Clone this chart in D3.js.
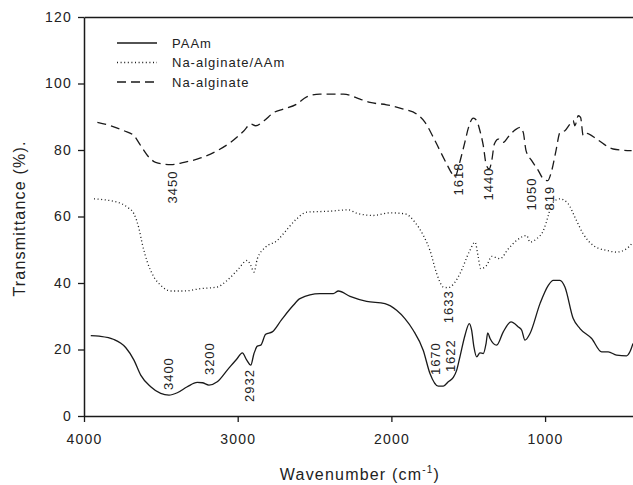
<!DOCTYPE html>
<html>
<head>
<meta charset="utf-8">
<script src="https://cdn.jsdelivr.net/npm/d3@7"></script>
<style>
  html, body { margin: 0; padding: 0; background: #fff; }
  svg { display: block; overflow: hidden; font-family: Arial, "Liberation Sans", sans-serif; }
</style>
</head>
<body>
<div id="chart"></div>
<script>
// Spectra as [wavenumber, transmittance] pairs
const paam = [[3956,24.2],[3902,24.0],[3805,23.0],[3729,20.6],[3675,16.8],[3631,12.3],[3566,8.8],[3501,6.8],[3447,6.3],[3393,7.0],[3328,8.8],[3263,10.1],[3230,10.0],[3187,9.3],[3133,10.3],[3068,13.8],[3003,17.3],[2970,19.0],[2941,16.8],[2915,15.3],[2894,18.8],[2872,21.0],[2850,21.3],[2818,24.6],[2775,25.3],[2714,29.0],[2638,33.3],[2595,35.3],[2465,36.8],[2378,36.8],[2345,37.6],[2269,36.0],[2161,34.5],[2042,33.8],[1966,31.8],[1912,29.3],[1858,25.8],[1793,19.8],[1749,12.8],[1695,9.0],[1662,9.0],[1630,10.3],[1597,11.6],[1575,13.8],[1554,17.8],[1521,24.3],[1493,27.8],[1478,25.8],[1463,20.8],[1445,17.8],[1424,19.0],[1402,18.8],[1384,21.8],[1373,25.0],[1358,23.3],[1315,21.3],[1272,25.3],[1222,28.3],[1174,26.8],[1152,25.8],[1131,22.8],[1098,24.8],[1033,33.8],[979,39.3],[947,40.8],[903,40.8],[871,38.8],[817,29.3],[773,26.3],[697,23.3],[632,19.3],[589,19.3],[535,18.3],[470,18.1],[448,19.3],[428,21.8]];

const alginateAAm = [[3935,65.3],[3783,64.3],[3718,62.8],[3675,60.8],[3642,56.3],[3621,51.8],[3588,46.3],[3545,41.8],[3501,39.3],[3436,37.6],[3349,37.6],[3241,38.3],[3133,38.8],[3068,40.8],[3003,43.8],[2937,46.8],[2915,45.3],[2894,43.3],[2872,47.3],[2818,50.8],[2742,52.8],[2703,54.8],[2616,59.3],[2551,61.3],[2400,61.6],[2280,62.0],[2226,61.0],[2118,60.3],[2009,61.1],[1912,60.8],[1847,58.3],[1792,54.3],[1749,49.8],[1705,42.8],[1662,38.8],[1630,38.6],[1590,40.0],[1554,42.8],[1489,49.8],[1456,52.3],[1435,47.8],[1419,44.3],[1380,45.3],[1347,48.0],[1293,47.3],[1239,50.3],[1185,52.8],[1120,54.3],[1098,52.3],[1055,53.3],[1011,55.8],[979,60.3],[957,63.8],[903,65.3],[849,63.8],[806,59.8],[752,54.8],[687,51.3],[600,49.8],[535,49.3],[470,50.3],[437,51.8]];

const alginate = [[3913,88.3],[3826,87.3],[3740,85.8],[3675,84.3],[3631,81.3],[3577,77.8],[3534,76.3],[3436,75.6],[3349,76.3],[3241,77.6],[3133,79.8],[3046,82.3],[2959,85.8],[2915,87.8],[2883,87.3],[2829,88.8],[2764,91.3],[2703,92.3],[2616,93.8],[2551,96.0],[2465,96.8],[2312,96.8],[2204,95.3],[2139,94.3],[2031,93.6],[1922,92.3],[1835,90.8],[1781,88.3],[1727,83.8],[1684,79.8],[1640,75.8],[1607,73.0],[1585,72.0],[1560,75.5],[1540,79.0],[1521,82.5],[1500,86.5],[1467,89.6],[1445,88.8],[1424,85.8],[1402,81.3],[1384,75.8],[1364,74.3],[1347,76.8],[1330,81.8],[1304,83.3],[1272,82.3],[1239,84.0],[1196,86.0],[1163,86.8],[1142,85.3],[1124,79.8],[1087,76.8],[1044,73.8],[1011,71.3],[983,70.8],[957,73.8],[929,79.8],[903,85.3],[871,85.8],[838,87.8],[817,88.8],[806,87.3],[784,90.3],[769,89.8],[752,84.3],[730,85.0],[665,83.3],[557,80.3],[437,79.8]];

const seriesNames = ["PAAm", "Na-alginate/AAm", "Na-alginate"];

// Peak labels: text, wavenumber and transmittance where the rotated label starts
const peakLabels = ["3450", "1618", "1440", "1050", "819", "1633", "1670", "1622", "3400", "3200", "2932"];
const peakWave = [3428, 1567, 1370, 1087, 973, 1630, 1716, 1619, 3453, 3187, 2922];
const peakT = [63.9, 66.3, 64.8, 61.8, 61.8, 27.9, 12.3, 13.2, 7.8, 12.3, 4.2];

const xTicks = [4000, 3000, 2000, 1000];
const yTicks = [0, 20, 40, 60, 80, 100, 120];

const width = 633, height = 485;
const plotLeft = 84, plotTop = 17, plotBottom = 416, plotRight = 637.3;

const svg = d3.select("#chart").append("svg")
  .attr("width", width)
  .attr("height", height);

const x = d3.scaleLinear().domain([4000, 400]).range([plotLeft, plotRight]);
const y = d3.scaleLinear().domain([0, 120]).range([plotBottom, plotTop]);

svg.append("clipPath").attr("id", "plot-clip")
  .append("rect")
  .attr("x", plotLeft).attr("y", plotTop)
  .attr("width", plotRight - plotLeft).attr("height", plotBottom - plotTop);

// Curves
const line = d3.line()
  .x(d => x(d[0]))
  .y(d => y(d[1]))
  .curve(d3.curveMonotoneX);

const styles = [
  { data: paam, dash: null, width: 1.3 },
  { data: alginateAAm, dash: "1,2.6", width: 1.3 },
  { data: alginate, dash: "9,5", width: 1.3 }
];

const plot = svg.append("g").attr("clip-path", "url(#plot-clip)");
styles.forEach(s => {
  plot.append("path")
    .datum(s.data)
    .attr("d", line)
    .attr("fill", "none")
    .attr("stroke", "#1a1a1a")
    .attr("stroke-width", s.width)
    .attr("stroke-dasharray", s.dash);
});

// Axes
const textColor = "#222";

const yAxis = svg.append("g")
  .attr("transform", `translate(${plotLeft},0)`)
  .call(d3.axisLeft(y).tickValues(yTicks).tickFormat(d3.format("d"))
    .tickSize(6).tickSizeOuter(0).tickPadding(6));

const xAxis = svg.append("g")
  .attr("transform", `translate(0,${plotBottom})`)
  .call(d3.axisBottom(x).tickValues(xTicks).tickFormat(d3.format("d"))
    .tickSize(6).tickSizeOuter(0).tickPadding(12));

const topAxis = svg.append("g")
  .attr("transform", `translate(0,${plotTop})`)
  .call(d3.axisTop(x).tickValues([]).tickSizeOuter(0));

[yAxis, xAxis, topAxis].forEach(a => {
  a.select(".domain").attr("stroke", "#1a1a1a").attr("stroke-width", 1.5);
  a.selectAll(".tick line").attr("stroke", "#1a1a1a").attr("stroke-width", 1.3);
  a.selectAll(".tick text")
    .attr("fill", textColor)
    .style("font-size", "14px")
    .style("letter-spacing", "1.2px")
    .style("font-family", "Arial, 'Liberation Sans', sans-serif");
});

// Axis titles
svg.append("text")
  .attr("transform", `translate(25,${(plotTop + plotBottom) / 2 + 2}) rotate(-90)`)
  .attr("text-anchor", "middle")
  .attr("fill", textColor)
  .style("font-size", "16px")
  .style("letter-spacing", "1.2px")
  .text("Transmittance (%).");

const xTitle = svg.append("text")
  .attr("x", 360)
  .attr("y", 480)
  .attr("text-anchor", "middle")
  .attr("fill", textColor)
  .style("font-size", "16px")
  .style("letter-spacing", "1.2px");
xTitle.append("tspan").text("Wavenumber (cm");
xTitle.append("tspan").attr("dy", -7).style("font-size", "10px").text("-1");
xTitle.append("tspan").attr("dy", 7).text(")");

// Peak annotations
peakLabels.forEach((label, i) => {
  svg.append("text")
    .attr("transform", `translate(${x(peakWave[i])},${y(peakT[i])}) rotate(-90)`)
    .attr("dy", "0.36em")
    .attr("text-anchor", "start")
    .attr("fill", textColor)
    .style("font-size", "13px")
    .style("letter-spacing", "1px")
    .text(label);
});

// Legend
const legend = svg.append("g");
seriesNames.forEach((name, i) => {
  const ly = 43 + i * 19.5;
  legend.append("line")
    .attr("x1", 117).attr("x2", 157)
    .attr("y1", ly).attr("y2", ly)
    .attr("stroke", "#1a1a1a")
    .attr("stroke-width", 1.3)
    .attr("stroke-dasharray", styles[i].dash);
  legend.append("text")
    .attr("x", 172)
    .attr("y", ly + 4.8)
    .attr("fill", textColor)
    .style("font-size", "13px")
    .style("letter-spacing", "1px")
    .text(name);
});
</script>
</body>
</html>
